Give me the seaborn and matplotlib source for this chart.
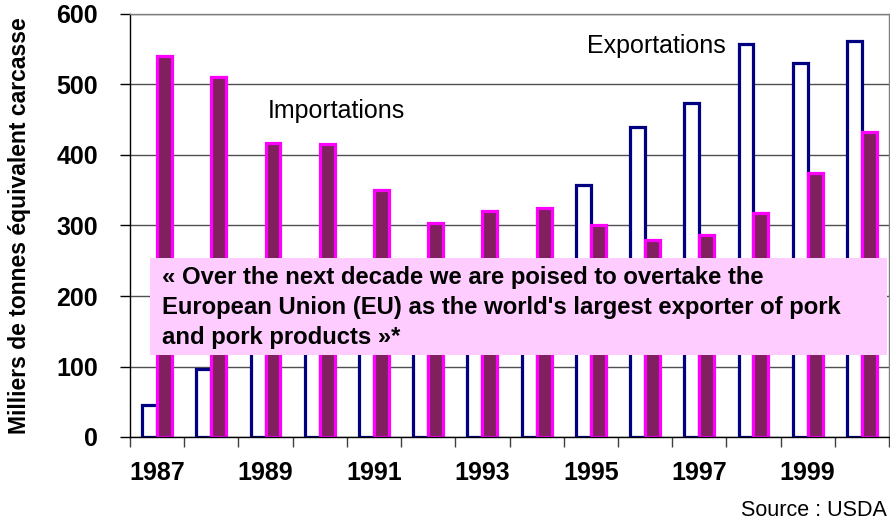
import matplotlib
matplotlib.use("Agg")
import matplotlib.pyplot as plt
import numpy as np
import pandas as pd
import seaborn as sns
from matplotlib.patches import Rectangle

years = list(range(1987, 2001))
exportations = [45, 97, 125, 120, 135, 185, 180, 245, 357, 440, 474, 557, 530, 562]
importations = [540, 510, 417, 415, 350, 304, 320, 325, 301, 280, 287, 318, 375, 433]
year_labels = ['1987', '1989', '1991', '1993', '1995', '1997', '1999']
quote = ("« Over the next decade we are poised to overtake the\n"
         "European Union (EU) as the world's largest exporter of pork\n"
         "and pork products »*")

df = pd.DataFrame({
    'annee': [str(y) for y in years] * 2,
    'valeur': exportations + importations,
    'serie': ['Exportations'] * len(years) + ['Importations'] * len(years),
})

plt.rcParams['font.family'] = ['Liberation Sans', 'DejaVu Sans']

fig = plt.figure(figsize=(8.9, 5.22), dpi=100)
ax = fig.add_axes([130 / 890, 85 / 522, 759 / 890, 423 / 522])

sns.barplot(data=df, x='annee', y='valeur', hue='serie',
            hue_order=['Exportations', 'Importations'],
            palette={'Exportations': 'white', 'Importations': '#80205F'},
            width=0.55, saturation=1, linewidth=2.3, errorbar=None,
            legend=False, ax=ax)
for bars, ec in zip(ax.containers, ['#000080', '#FF00FF']):
    for b in bars:
        b.set_edgecolor(ec)

ax.set_ylim(0, 600)
ax.set_xlim(-0.5, 13.5)
ax.set_yticks(range(0, 601, 100))
ax.yaxis.grid(True, color='#505050', lw=1)
ax.xaxis.grid(False)
ax.set_axisbelow(True)
ax.set_xlabel('')
ax.set_ylabel('')

ax.tick_params(axis='y', direction='out', length=7, width=1, pad=16, labelsize=18)
for lbl in ax.get_yticklabels():
    lbl.set_fontweight('bold')

ax.set_xticks(range(0, 14, 2))
ax.set_xticklabels(year_labels, fontweight='bold', fontsize=18)
ax.set_xticks(np.arange(-0.5, 13.6, 1), minor=True)
ax.tick_params(axis='x', which='major', length=0, pad=17)
ax.tick_params(axis='x', which='minor', direction='out', length=7, width=1, color='#404040')

for side in ['left', 'bottom']:
    ax.spines[side].set_color('black')
    ax.spines[side].set_linewidth(1)
for side in ['top', 'right']:
    ax.spines[side].set_color('#808080')
    ax.spines[side].set_linewidth(1)

ax.text(2.05, 463, 'Importations', fontsize=18, va='center', ha='left')
ax.text(7.93, 554, 'Exportations', fontsize=18, va='center', ha='left')

ax.add_patch(Rectangle((-0.13, 116), 13.6, 137.6, facecolor='#FFCCFF',
                       edgecolor='none', zorder=5, clip_on=False))
ax.text(0.09, 184, quote, fontsize=17.2, fontweight='bold', va='center', ha='left',
        linespacing=1.4, zorder=6)

fig.text(20 / 890, 1 - 226 / 522, 'Milliers de tonnes équivalent carcasse',
         rotation=90, va='center', ha='center', fontsize=16.5, fontweight='bold')
fig.text(887 / 890, 1 - 511 / 522, 'Source : USDA', ha='right', va='center', fontsize=15.5)

fig.savefig('out.png', dpi=100)
